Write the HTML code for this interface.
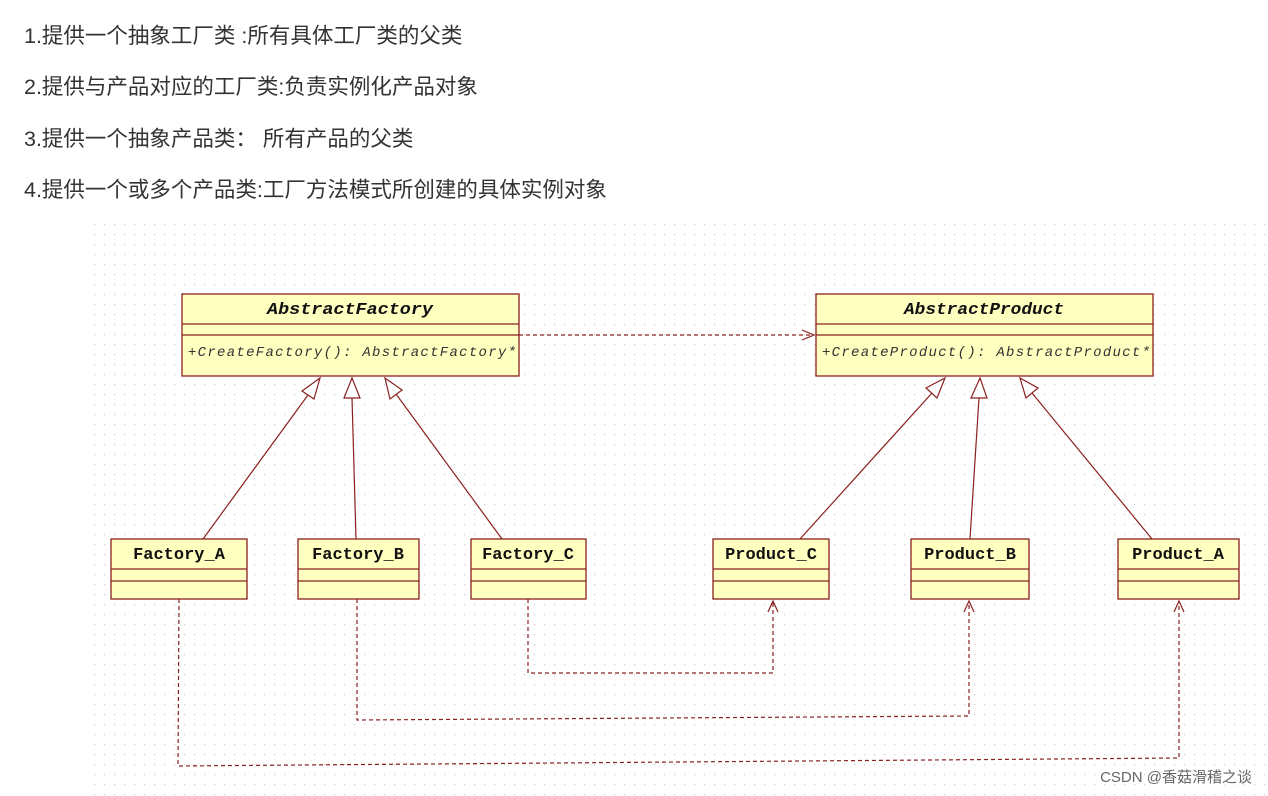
<!DOCTYPE html>
<html><head><meta charset="utf-8"><style>
body{margin:0;width:1268px;height:796px;background:#fff;overflow:hidden;position:relative;font-family:"Liberation Sans","Noto Sans CJK SC",sans-serif}
.t{position:absolute;left:24px;font-size:21.5px;color:#333}
</style></head><body>
<div class="t" style="top:19px">1.提供一个抽象工厂类 :所有具体工厂类的父类</div>
<div class="t" style="top:70px">2.提供与产品对应的工厂类:负责实例化产品对象</div>
<div class="t" style="top:122px">3.提供一个抽象产品类：  所有产品的父类</div>
<div class="t" style="top:173px">4.提供一个或多个产品类:工厂方法模式所创建的具体实例对象</div>
<svg width="1268" height="796" style="position:absolute;left:0;top:0">
<defs>
<pattern id="g" width="10" height="10" patternUnits="userSpaceOnUse"><rect x="4" y="4" width="1.2" height="1.2" fill="#ccc"/></pattern>
</defs>
<rect x="88" y="222" width="1180" height="574" fill="url(#g)"/>
<g stroke="#8b2020" stroke-width="1.3" fill="#ffffc0">
<rect x="182" y="294" width="337" height="82"/><line x1="182" y1="324" x2="519" y2="324"/><line x1="182" y1="335" x2="519" y2="335"/>
<rect x="816" y="294" width="337" height="82"/><line x1="816" y1="324" x2="1153" y2="324"/><line x1="816" y1="335" x2="1153" y2="335"/>
<rect x="111" y="539" width="136" height="60"/><line x1="111" y1="569" x2="247" y2="569"/><line x1="111" y1="581" x2="247" y2="581"/>
<rect x="298" y="539" width="121" height="60"/><line x1="298" y1="569" x2="419" y2="569"/><line x1="298" y1="581" x2="419" y2="581"/>
<rect x="471" y="539" width="115" height="60"/><line x1="471" y1="569" x2="586" y2="569"/><line x1="471" y1="581" x2="586" y2="581"/>
<rect x="713" y="539" width="116" height="60"/><line x1="713" y1="569" x2="829" y2="569"/><line x1="713" y1="581" x2="829" y2="581"/>
<rect x="911" y="539" width="118" height="60"/><line x1="911" y1="569" x2="1029" y2="569"/><line x1="911" y1="581" x2="1029" y2="581"/>
<rect x="1118" y="539" width="121" height="60"/><line x1="1118" y1="569" x2="1239" y2="569"/><line x1="1118" y1="581" x2="1239" y2="581"/>
</g>
<g font-family="Liberation Mono,monospace" font-weight="bold" font-size="17" fill="#111" text-anchor="middle">
<text x="350" y="314" font-style="italic" textLength="166" lengthAdjust="spacingAndGlyphs">AbstractFactory</text>
<text x="984" y="314" font-style="italic" textLength="160" lengthAdjust="spacingAndGlyphs">AbstractProduct</text>
<text x="179" y="559">Factory_A</text><text x="358" y="559">Factory_B</text><text x="528" y="559">Factory_C</text>
<text x="771" y="559">Product_C</text><text x="970" y="559">Product_B</text><text x="1178" y="559">Product_A</text>
</g>
<g font-family="Liberation Mono,monospace" font-size="14" font-style="italic" fill="#333">
<text x="188" y="356" textLength="328">+CreateFactory(): AbstractFactory*</text>
<text x="822" y="356" textLength="328">+CreateProduct(): AbstractProduct*</text>
</g>
<g stroke="#8b2020" stroke-width="1.2" fill="none">
<line x1="519" y1="335" x2="814" y2="335" stroke-dasharray="4,3"/>
<polyline points="802,330 814,335 802,340"/>
<g fill="#fff">
<line x1="203" y1="539" x2="308" y2="395"/><polygon points="320,378 302,391 314,399"/>
<line x1="356" y1="539" x2="352" y2="398"/><polygon points="352,378 344,398 360,398"/>
<line x1="502" y1="539" x2="396" y2="394"/><polygon points="385,378 390,399 402,390"/>
<line x1="800" y1="539" x2="932" y2="393"/><polygon points="945,378 926,388 937,398"/>
<line x1="970" y1="539" x2="979" y2="398"/><polygon points="980,378 971,398 987,398"/>
<line x1="1152" y1="539" x2="1032" y2="393"/><polygon points="1020,378 1026,398 1038,388"/>
</g>
<g stroke-dasharray="4,3">
<polyline points="528,599 528,673 773,673 773,603"/>
<polyline points="357,599 357,720 969,716 969,603"/>
<polyline points="179,599 178,766 1179,758 1179,603"/>
</g>
<polyline points="768,612 773,601 778,612"/>
<polyline points="964,612 969,601 974,612"/>
<polyline points="1174,612 1179,601 1184,612"/>
</g>
<text x="1252" y="782" text-anchor="end" font-size="15" fill="#fff" stroke="#fff" stroke-width="3" font-family="Liberation Sans,Noto Sans CJK SC,sans-serif">CSDN @香菇滑稽之谈</text>
<text x="1252" y="782" text-anchor="end" font-size="15" fill="#666" font-family="Liberation Sans,Noto Sans CJK SC,sans-serif">CSDN @香菇滑稽之谈</text>
</svg>
</body></html>
